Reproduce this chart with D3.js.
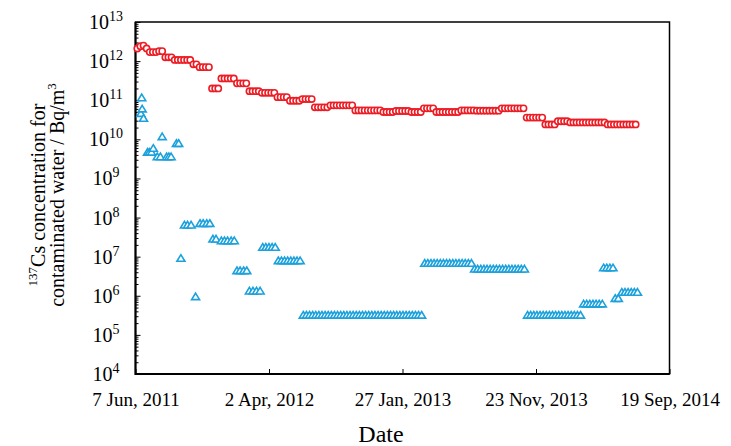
<!DOCTYPE html>
<html lang="en">
<head>
<meta charset="UTF-8">
<title>137Cs concentration for contaminated water</title>
<script src="https://d3js.org/d3.v7.min.js"></script>
<style>
  body { margin: 0; background: white; }
  text { font-family: "Liberation Serif", "Times New Roman", serif; fill: black; }
</style>
</head>
<body>
<script>
// sample dates are given as days after 7 Jun 2011
const redDays = [
  4, 11, 18, 25, 32, 39, 46, 53, 60, 67,
  74, 81, 88, 95, 102, 109, 116, 123, 130, 137,
  144, 151, 158, 165, 172, 179, 186, 193, 200, 207,
  214, 221, 228, 235, 242, 249, 256, 263, 270, 277,
  284, 291, 298, 305, 312, 319, 326, 333, 340, 347,
  354, 361, 368, 375, 382, 389, 396, 403, 410, 417,
  424, 431, 438, 445, 452, 459, 466, 473, 480, 487,
  494, 501, 508, 515, 522, 529, 536, 543, 550, 557,
  564, 571, 578, 585, 592, 599, 606, 613, 620, 627,
  634, 641, 648, 655, 662, 669, 676, 683, 690, 697,
  704, 711, 718, 725, 732, 739, 746, 753, 760, 767,
  774, 781, 788, 795, 802, 809, 816, 823, 830, 837,
  844, 851, 858, 865, 872, 879, 886, 893, 900, 907,
  914, 921, 928, 935, 942, 949, 956, 963, 970, 977,
  984, 991, 998, 1005, 1012, 1019, 1026, 1033, 1040, 1047,
  1054, 1061, 1068, 1075, 1082, 1089, 1096, 1103, 1110, 1117,
  1124
];
const redValues = [
  2.1e12, 2.4e12, 2.5e12, 2.1e12, 1.7e12, 1.7e12, 1.7e12, 1.8e12, 1.8e12, 1.25e12,
  1.25e12, 1.25e12, 1.07e12, 1.07e12, 1.07e12, 1.07e12, 1.07e12, 1.07e12, 8.3e11, 8.3e11,
  7.0e11, 7.0e11, 7.0e11, 7.0e11, 2.0e11, 2.0e11, 2.0e11, 3.6e11, 3.6e11, 3.6e11,
  3.6e11, 3.6e11, 2.7e11, 2.7e11, 2.7e11, 2.7e11, 1.7e11, 1.7e11, 1.7e11, 1.7e11,
  1.55e11, 1.55e11, 1.55e11, 1.55e11, 1.55e11, 1.2e11, 1.2e11, 1.2e11, 1.2e11, 9.7e10,
  9.7e10, 9.7e10, 9.7e10, 1.07e11, 1.07e11, 1.07e11, 1.07e11, 6.6e10, 6.6e10, 6.6e10,
  6.6e10, 6.6e10, 7.4e10, 7.4e10, 7.4e10, 7.4e10, 7.4e10, 7.4e10, 7.4e10, 7.4e10,
  5.5e10, 5.5e10, 5.5e10, 5.5e10, 5.5e10, 5.5e10, 5.5e10, 5.5e10, 5.5e10, 5.0e10,
  5.0e10, 5.0e10, 5.0e10, 5.3e10, 5.3e10, 5.3e10, 5.3e10, 5.3e10, 5.0e10, 5.0e10,
  5.0e10, 5.0e10, 6.2e10, 6.2e10, 6.2e10, 6.2e10, 5.0e10, 5.0e10, 5.0e10, 5.0e10,
  5.0e10, 5.0e10, 5.0e10, 5.0e10, 5.5e10, 5.5e10, 5.5e10, 5.5e10, 5.5e10, 5.4e10,
  5.4e10, 5.4e10, 5.4e10, 5.4e10, 5.4e10, 5.4e10, 5.4e10, 6.2e10, 6.2e10, 6.2e10,
  6.2e10, 6.2e10, 6.2e10, 6.2e10, 6.2e10, 3.6e10, 3.6e10, 3.6e10, 3.6e10, 3.6e10,
  3.6e10, 2.4e10, 2.4e10, 2.4e10, 2.4e10, 2.9e10, 2.9e10, 2.9e10, 2.9e10, 2.7e10,
  2.7e10, 2.7e10, 2.7e10, 2.7e10, 2.7e10, 2.7e10, 2.7e10, 2.7e10, 2.7e10, 2.7e10,
  2.7e10, 2.4e10, 2.4e10, 2.4e10, 2.4e10, 2.4e10, 2.4e10, 2.4e10, 2.4e10, 2.4e10,
  2.4e10
];

const blueDays = [
  12, 14, 15, 18, 27, 31, 36, 40, 49, 56,
  60, 70, 75, 80, 92, 97, 102, 110, 117, 125,
  135, 145, 152, 160, 167, 174, 181, 193, 200, 207,
  215, 222, 228, 235, 243, 250, 256, 264, 272, 280,
  286, 293, 300, 307, 314, 321, 328, 335, 342, 349,
  356, 363, 370,
  377, 384, 391, 398, 405, 412, 419, 426, 433, 440,
  447, 454, 461, 468, 475, 482, 489, 496, 503, 510,
  517, 524, 531, 538, 545, 552, 559, 566, 573, 580,
  587, 594, 601, 608, 615, 622, 629, 636, 643,
  650, 657, 664, 671, 678, 685, 692, 699, 706, 713,
  720, 727, 734, 741, 748, 755,
  762, 769, 776, 783, 790, 797, 804, 811, 818, 825,
  832, 839, 846, 853, 860, 867, 874,
  881, 888, 895, 902, 909, 916, 923, 930, 937, 944,
  951, 958, 965, 972, 979, 986, 993, 1000,
  1007, 1014, 1021, 1028, 1035, 1042, 1049,
  1052, 1059, 1066, 1073, 1078, 1085,
  1093, 1100, 1107, 1114, 1121, 1128
];
const blueValues = [
  4.6e10, 1.16e11, 6.0e10, 3.45e10, 4.7e9, 4.7e9, 4.7e9, 5.9e9, 3.6e9, 3.6e9,
  1.17e10, 3.6e9, 3.6e9, 3.6e9, 7.9e9, 7.9e9, 9.1e6, 6.45e7, 6.45e7, 6.45e7,
  9.5e5, 7.1e7, 7.1e7, 7.1e7, 7.1e7, 2.83e7, 2.83e7, 2.56e7, 2.56e7, 2.56e7,
  2.56e7, 2.56e7, 4.4e6, 4.4e6, 4.4e6, 4.4e6, 1.33e6, 1.33e6, 1.33e6, 1.33e6,
  1.74e7, 1.74e7, 1.74e7, 1.74e7, 1.74e7, 7.9e6, 7.9e6, 7.9e6, 7.9e6, 7.9e6,
  7.9e6, 7.9e6, 7.9e6,
  3.2e5, 3.2e5, 3.2e5, 3.2e5, 3.2e5, 3.2e5, 3.2e5, 3.2e5, 3.2e5, 3.2e5,
  3.2e5, 3.2e5, 3.2e5, 3.2e5, 3.2e5, 3.2e5, 3.2e5, 3.2e5, 3.2e5, 3.2e5,
  3.2e5, 3.2e5, 3.2e5, 3.2e5, 3.2e5, 3.2e5, 3.2e5, 3.2e5, 3.2e5, 3.2e5,
  3.2e5, 3.2e5, 3.2e5, 3.2e5, 3.2e5, 3.2e5, 3.2e5, 3.2e5, 3.2e5,
  6.8e6, 6.8e6, 6.8e6, 6.8e6, 6.8e6, 6.8e6, 6.8e6, 6.8e6, 6.8e6, 6.8e6,
  6.8e6, 6.8e6, 6.8e6, 6.8e6, 6.8e6, 6.8e6,
  4.84e6, 4.84e6, 4.84e6, 4.84e6, 4.84e6, 4.84e6, 4.84e6, 4.84e6, 4.84e6, 4.84e6,
  4.84e6, 4.84e6, 4.84e6, 4.84e6, 4.84e6, 4.84e6, 4.84e6,
  3.2e5, 3.2e5, 3.2e5, 3.2e5, 3.2e5, 3.2e5, 3.2e5, 3.2e5, 3.2e5, 3.2e5,
  3.2e5, 3.2e5, 3.2e5, 3.2e5, 3.2e5, 3.2e5, 3.2e5, 3.2e5,
  6.2e5, 6.2e5, 6.2e5, 6.2e5, 6.2e5, 6.2e5, 6.2e5,
  5.2e6, 5.2e6, 5.2e6, 5.2e6, 8.6e5, 8.6e5,
  1.23e6, 1.23e6, 1.23e6, 1.23e6, 1.23e6, 1.23e6
];

const xTickDates = ["2011-06-07", "2012-04-02", "2013-01-27", "2013-11-23", "2014-09-19"];
const yTickPowers = [4, 5, 6, 7, 8, 9, 10, 11, 12, 13];

const width = 731, height = 446;
const plotLeft = 135.5, plotRight = 669.5, plotTop = 22, plotBottom = 374;
const startDate = new Date(Date.UTC(2011, 5, 7));
const dayToDate = d => new Date(startDate.getTime() + d * 86400000);

const svg = d3.select('body').append('svg')
  .attr('width', width)
  .attr('height', height)
  .style('background', 'white');

const x = d3.scaleUtc()
  .domain([new Date(xTickDates[0]), new Date(xTickDates[xTickDates.length - 1])])
  .range([plotLeft, plotRight]);

const y = d3.scaleLog()
  .domain([1e4, 1e13])
  .range([plotBottom, plotTop]);

// minor ticks 2..9 in every decade
const minorTicks = [];
yTickPowers.slice(0, -1).forEach(p => {
  for (let m = 2; m <= 9; m++) minorTicks.push(m * Math.pow(10, p));
});

svg.append('g')
  .attr('transform', 'translate(' + plotLeft + ',0)')
  .call(d3.axisLeft(y).tickValues(minorTicks).tickSize(-3).tickFormat(''))
  .call(g => g.select('.domain').remove())
  .selectAll('line').attr('stroke', 'black').attr('stroke-width', 1);

svg.append('g')
  .attr('transform', 'translate(' + plotLeft + ',0)')
  .call(d3.axisLeft(y).tickValues(yTickPowers.map(p => Math.pow(10, p))).tickSize(-5).tickFormat(''))
  .call(g => g.select('.domain').remove())
  .selectAll('line').attr('stroke', 'black').attr('stroke-width', 1);

// y tick labels with superscript exponents
const yLabels = svg.append('g').selectAll('text')
  .data(yTickPowers)
  .enter()
  .append('text')
  .attr('x', 106)
  .attr('y', p => y(Math.pow(10, p)) + 7)
  .attr('text-anchor', 'middle')
  .style('font-size', '20px');
yLabels.append('tspan').text('10');
yLabels.append('tspan').attr('dy', -8).style('font-size', '14px').text(p => p);

// x axis
svg.append('g')
  .attr('transform', 'translate(0,' + plotBottom + ')')
  .call(d3.axisBottom(x)
    .tickValues(xTickDates.map(s => new Date(s)))
    .tickSize(-5)
    .tickPadding(19)
    .tickFormat(d3.utcFormat('%-d %b, %Y')))
  .call(g => g.select('.domain').remove())
  .call(g => g.selectAll('line').attr('stroke', 'black'))
  .call(g => g.selectAll('text')
    .style('font-size', '19px')
    .style('font-family', '"Liberation Serif", serif')
    .attr('fill', 'black'));

// plot frame
svg.append('rect')
  .attr('x', plotLeft)
  .attr('y', plotTop)
  .attr('width', plotRight - plotLeft)
  .attr('height', plotBottom - plotTop)
  .attr('fill', 'none')
  .attr('stroke', 'black')
  .attr('stroke-width', 1.5);
svg.append('path')
  .attr('d', 'M' + plotLeft + ',' + plotTop + 'V' + plotBottom + 'H' + plotRight)
  .attr('fill', 'none')
  .attr('stroke', 'black')
  .attr('stroke-width', 2);

// blue triangles
const blueData = blueDays.map((d, i) => ({ date: dayToDate(d), value: blueValues[i] }));
svg.append('g').selectAll('path')
  .data(blueData)
  .enter()
  .append('path')
  .attr('d', 'M0,-3.6L4,3L-4,3Z')
  .attr('transform', d => 'translate(' + x(d.date) + ',' + y(d.value) + ')')
  .attr('fill', 'white')
  .attr('stroke', '#1ba1dc')
  .attr('stroke-width', 1.6);

// red circles
const redData = redDays.map((d, i) => ({ date: dayToDate(d), value: redValues[i] }));
svg.append('g').selectAll('circle')
  .data(redData)
  .enter()
  .append('circle')
  .attr('cx', d => x(d.date))
  .attr('cy', d => y(d.value))
  .attr('r', 3.1)
  .attr('fill', 'white')
  .attr('stroke', '#ed1c24')
  .attr('stroke-width', 1.6);

// axis titles
svg.append('text')
  .attr('x', 381)
  .attr('y', 442)
  .attr('text-anchor', 'middle')
  .style('font-size', '24px')
  .text('Date');

const yTitle = svg.append('g')
  .attr('transform', 'translate(45,195) rotate(-90)');
const line1 = yTitle.append('text')
  .attr('text-anchor', 'middle')
  .style('font-size', '20px');
line1.append('tspan').attr('dy', -8).style('font-size', '13px').text('137');
line1.append('tspan').attr('dy', 8).text('Cs concentration for');
const line2 = yTitle.append('text')
  .attr('y', 19)
  .attr('text-anchor', 'middle')
  .style('font-size', '20px');
line2.append('tspan').text('contaminated water / Bq/m');
line2.append('tspan').attr('dy', -8).style('font-size', '13px').text('3');
</script>
</body>
</html>
